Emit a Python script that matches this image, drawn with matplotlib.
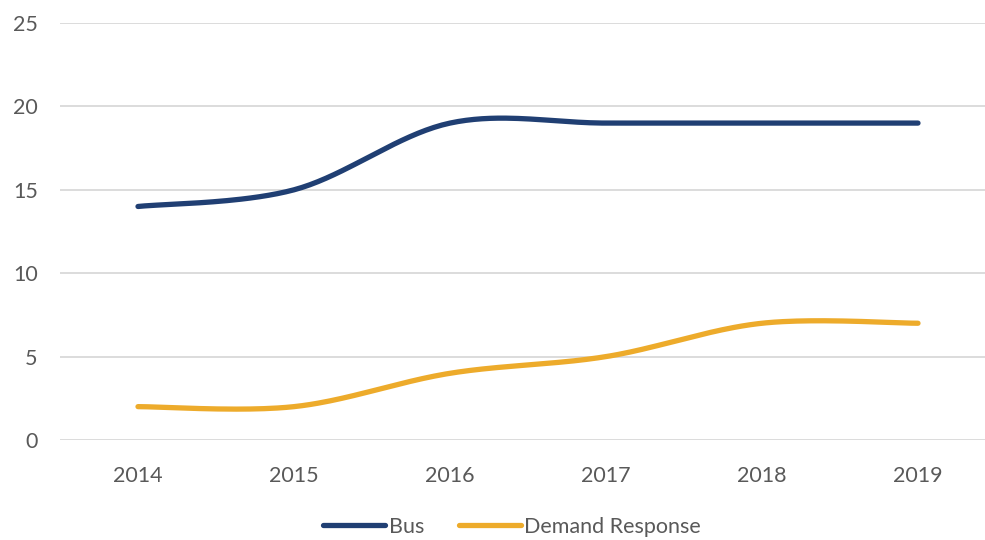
import numpy as np
import matplotlib
matplotlib.use("Agg")
import matplotlib.pyplot as plt
from matplotlib.lines import Line2D

years = ["2014", "2015", "2016", "2017", "2018", "2019"]
bus = [14, 15, 19, 19, 19, 19]
demand_response = [2, 2, 4, 5, 7, 7]
yticks = [0, 5, 10, 15, 20, 25]

bus_color = "#203F73"
dr_color = "#EDAB2B"
text_color = "#595959"
grid_color = "#D9D9D9"


def smooth(xs, ys, n=40):
    """Excel-like smoothed line: cubic Bezier with Catmull-Rom control points."""
    xs = np.asarray(xs, float)
    ys = np.asarray(ys, float)
    px = np.concatenate([[xs[0]], xs, [xs[-1]]])
    py = np.concatenate([[ys[0]], ys, [ys[-1]]])
    outx, outy = [], []
    t = np.linspace(0, 1, n)
    for i in range(1, len(px) - 2):
        p0 = np.array([px[i], py[i]])
        p3 = np.array([px[i + 1], py[i + 1]])
        c1 = p0 + (np.array([px[i + 1], py[i + 1]]) - np.array([px[i - 1], py[i - 1]])) / 6
        c2 = p3 - (np.array([px[i + 2], py[i + 2]]) - np.array([px[i], py[i]])) / 6
        b = ((1 - t) ** 3)[:, None] * p0 + (3 * (1 - t) ** 2 * t)[:, None] * c1 \
            + (3 * (1 - t) * t ** 2)[:, None] * c2 + (t ** 3)[:, None] * p3
        outx.extend(b[:, 0])
        outy.extend(b[:, 1])
    return outx, outy


plt.rcParams['font.family'] = ['Lato', 'DejaVu Sans']
fs = 15.5

fig = plt.figure(figsize=(9.85, 5.4), dpi=100)
ax = fig.add_axes([60 / 985, 1 - 440 / 540, 936 / 985, 417 / 540])

x = np.arange(len(years))
for vals, col, lab in [(bus, bus_color, "Bus"), (demand_response, dr_color, "Demand Response")]:
    sx, sy = smooth(x, vals)
    ax.plot(sx, sy, color=col, lw=3.8, solid_capstyle="round", label=lab, zorder=3)

ax.set_xlim(-0.5, len(years) - 0.5)
ax.set_ylim(0, 25)
ax.set_yticks(yticks)
ax.set_yticklabels([str(v) for v in yticks])
ax.set_xticks(x)
ax.set_xticklabels(years)
ax.yaxis.grid(True, color=grid_color, lw=1.3)
ax.set_axisbelow(True)
for s in ax.spines.values():
    s.set_visible(False)
ax.tick_params(axis="both", length=0, labelsize=fs, colors=text_color)
ax.tick_params(axis="y", pad=16)
ax.tick_params(axis="x", pad=19)
for lbl in ax.get_yticklabels():
    lbl.set_horizontalalignment("right")

handles = [Line2D([], [], color=bus_color, lw=3.8, solid_capstyle="round"),
           Line2D([], [], color=dr_color, lw=3.8, solid_capstyle="round")]
fig.legend(handles, ["Bus", "Demand Response"], loc="center", bbox_to_anchor=(512 / 985, 1 - 527 / 540),
           ncol=2, frameon=False, fontsize=fs, labelcolor=text_color, handlelength=2.9,
           handletextpad=0.15, columnspacing=1.6)

fig.savefig("out.png", dpi=100)
